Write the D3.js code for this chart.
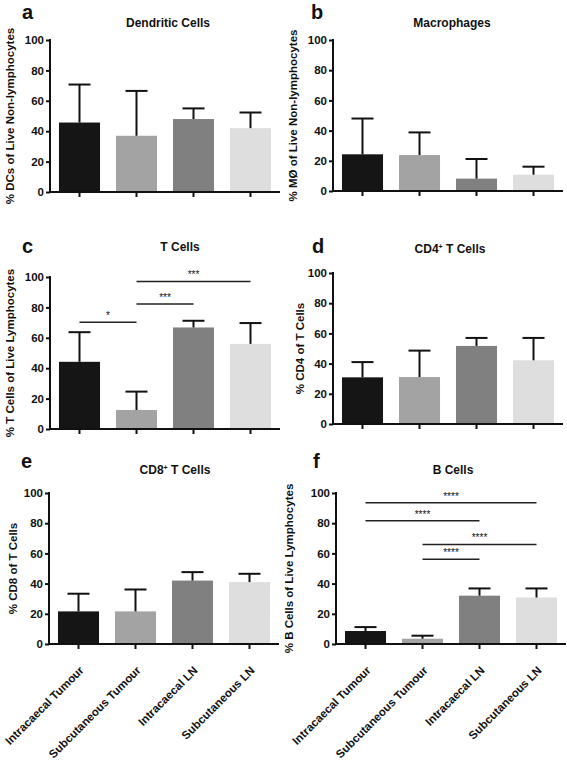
<!DOCTYPE html>
<html><head><meta charset="utf-8">
<script src="https://cdn.jsdelivr.net/npm/d3@7"></script>
<style>
html,body{margin:0;padding:0;background:#fff;}
text{font-family:"Liberation Sans",Arial,Helvetica,sans-serif;font-weight:bold;fill:#111;}
</style></head>
<body><svg id="c" width="567" height="763"></svg>
<script>
const categories = ["Intracaecal Tumour","Subcutaneous Tumour","Intracaecal LN","Subcutaneous LN"];
const barColors = ["#151515","#a3a3a3","#808080","#dedede"];
const yTicks = [0,20,40,60,80,100];

const dcMean = [45.7, 37, 48, 42];
const dcSD   = [25, 29.5, 7, 10.3];
const mMean  = [24.3, 23.8, 8.2, 10.8];
const mSD    = [23.7, 15, 13, 5.3];
const tMean  = [44.2, 12.5, 66.8, 56];
const tSD    = [19.5, 12.1, 4.4, 13.7];
const cd4Mean = [30.9, 31.1, 51.7, 42.2];
const cd4SD   = [10.1, 17.5, 5.3, 14.8];
const cd8Mean = [21.6, 21.6, 42, 41];
const cd8SD   = [11.7, 14.5, 5.6, 5.5];
const bMean  = [8.6, 3.5, 32, 30.8];
const bSD    = [2.6, 2, 4.8, 6];

const tSig = [{a:0,b:1,y:70.3,s:"*"},{a:1,b:2,y:82.2,s:"***"},{a:1,b:3,y:97.1,s:"***"}];
const bSig = [{a:0,b:3,y:93.6,s:"****"},{a:0,b:2,y:81.7,s:"****"},{a:1,b:3,y:65.9,s:"****"},{a:1,b:2,y:56.2,s:"****"}];

const panels = [
 {letter:"a", title:["Dendritic Cells"], ylab:"% DCs of Live Non-lymphocytes", mean:dcMean, sd:dcSD, sig:[],
  x0:50, yTop:40, yBot:192, lx:22, ly:19, tx:168, ty:27, ylx:14},
 {letter:"b", title:["Macrophages"], ylab:"% MØ of Live Non-lymphocytes", mean:mMean, sd:mSD, sig:[],
  x0:333, yTop:40, yBot:191, lx:311, ly:19, tx:452, ty:27, ylx:297},
 {letter:"c", title:["T Cells"], ylab:"% T Cells  of Live Lymphocytes", mean:tMean, sd:tSD, sig:tSig,
  x0:50, yTop:277, yBot:429, lx:22, ly:253, tx:180, ty:251, ylx:14},
 {letter:"d", title:["CD4","+"," T Cells"], ylab:"% CD4 of T Cells", mean:cd4Mean, sd:cd4SD, sig:[],
  x0:333, yTop:273, yBot:424, lx:312, ly:253, tx:450, ty:253, ylx:304},
 {letter:"e", title:["CD8","+"," T Cells"], ylab:"% CD8 of T Cells", mean:cd8Mean, sd:cd8SD, sig:[],
  x0:49, yTop:493, yBot:644, lx:21, ly:468, tx:175, ty:474, ylx:17, xlabels:true},
 {letter:"f", title:["B Cells"], ylab:"% B Cells of Live Lymphocytes", mean:bMean, sd:bSD, sig:bSig,
  x0:336, yTop:493, yBot:644, lx:313, ly:468, tx:453, ty:474, ylx:293, xlabels:true}
];

const svg = d3.select("#c");

panels.forEach(p => {
  const g = svg.append("g");
  const x = d3.scaleBand().domain(categories).range([p.x0+1, p.x0+229]).paddingInner(0.28).paddingOuter(0.14);
  const y = d3.scaleLinear().domain([0,100]).range([p.yBot, p.yTop]);

  g.selectAll("rect.bar").data(p.mean).join("rect")
    .attr("x",(d,i)=>x(categories[i])).attr("width",x.bandwidth())
    .attr("y",d=>y(d)).attr("height",d=>y(0)-y(d))
    .attr("fill",(d,i)=>barColors[i]);

  p.mean.forEach((m,i)=>{
    const cx = x(categories[i]) + x.bandwidth()/2;
    const top = y(m + p.sd[i]);
    g.append("line").attr("x1",cx).attr("x2",cx).attr("y1",y(m)).attr("y2",top)
      .attr("stroke","#111").attr("stroke-width",2);
    g.append("line").attr("x1",cx-11).attr("x2",cx+11).attr("y1",top).attr("y2",top)
      .attr("stroke","#111").attr("stroke-width",2);
  });

  const yAxis = d3.axisLeft(y).tickValues(yTicks).tickSize(4).tickPadding(2);
  const ya = g.append("g").attr("transform",`translate(${p.x0},0)`).call(yAxis);
  ya.select(".domain").attr("stroke","#111").attr("stroke-width",2).attr("d",`M0,${p.yTop-1}V${p.yBot}`);
  ya.selectAll(".tick line").attr("stroke","#111").attr("stroke-width",2);
  ya.selectAll(".tick text").style("font-size","11.5px").style("font-family",'"Liberation Sans",Arial,sans-serif').style("font-weight","bold").attr("fill","#111");

  const xAxis = d3.axisBottom(x).tickSize(5).tickFormat("");
  const xa = g.append("g").attr("transform",`translate(0,${p.yBot})`).call(xAxis);
  xa.select(".domain").attr("stroke","#111").attr("stroke-width",2).attr("d",`M${p.x0-1},0H${p.x0+230}`);
  xa.selectAll(".tick line").attr("stroke","#111").attr("stroke-width",2);

  if (p.xlabels) {
    categories.forEach(c=>{
      const cx = x(c) + x.bandwidth()/2 + 6;
      g.append("text").attr("text-anchor","end")
        .attr("transform",`translate(${cx},${p.yBot+27}) rotate(-45)`)
        .style("font-size","11.5px").text(c);
    });
  }

  p.sig.forEach(s=>{
    const xa_ = x(categories[s.a]) + x.bandwidth()/2;
    const xb_ = x(categories[s.b]) + x.bandwidth()/2;
    g.append("line").attr("x1",xa_).attr("x2",xb_).attr("y1",y(s.y)).attr("y2",y(s.y))
      .attr("stroke","#222").attr("stroke-width",1.5);
    g.append("text").attr("x",(xa_+xb_)/2).attr("y",y(s.y)-3).attr("text-anchor","middle")
      .style("font-size","10px").style("font-weight","normal").text(s.s);
  });

  g.append("text").attr("text-anchor","middle")
    .attr("transform",`translate(${p.ylx},${(p.yTop+p.yBot)/2}) rotate(-90)`)
    .style("font-size","11.5px").text(p.ylab);

  const t = g.append("text").attr("x",p.tx).attr("y",p.ty).attr("text-anchor","middle").style("font-size","12px");
  if (p.title.length===1) t.text(p.title[0]);
  else {
    t.append("tspan").text(p.title[0]);
    t.append("tspan").attr("dy",-4).style("font-size","7px").text(p.title[1]);
    t.append("tspan").attr("dy",4).text(p.title[2]);
  }

  g.append("text").attr("x",p.lx).attr("y",p.ly).style("font-size","20px").text(p.letter);
});
</script></body></html>
